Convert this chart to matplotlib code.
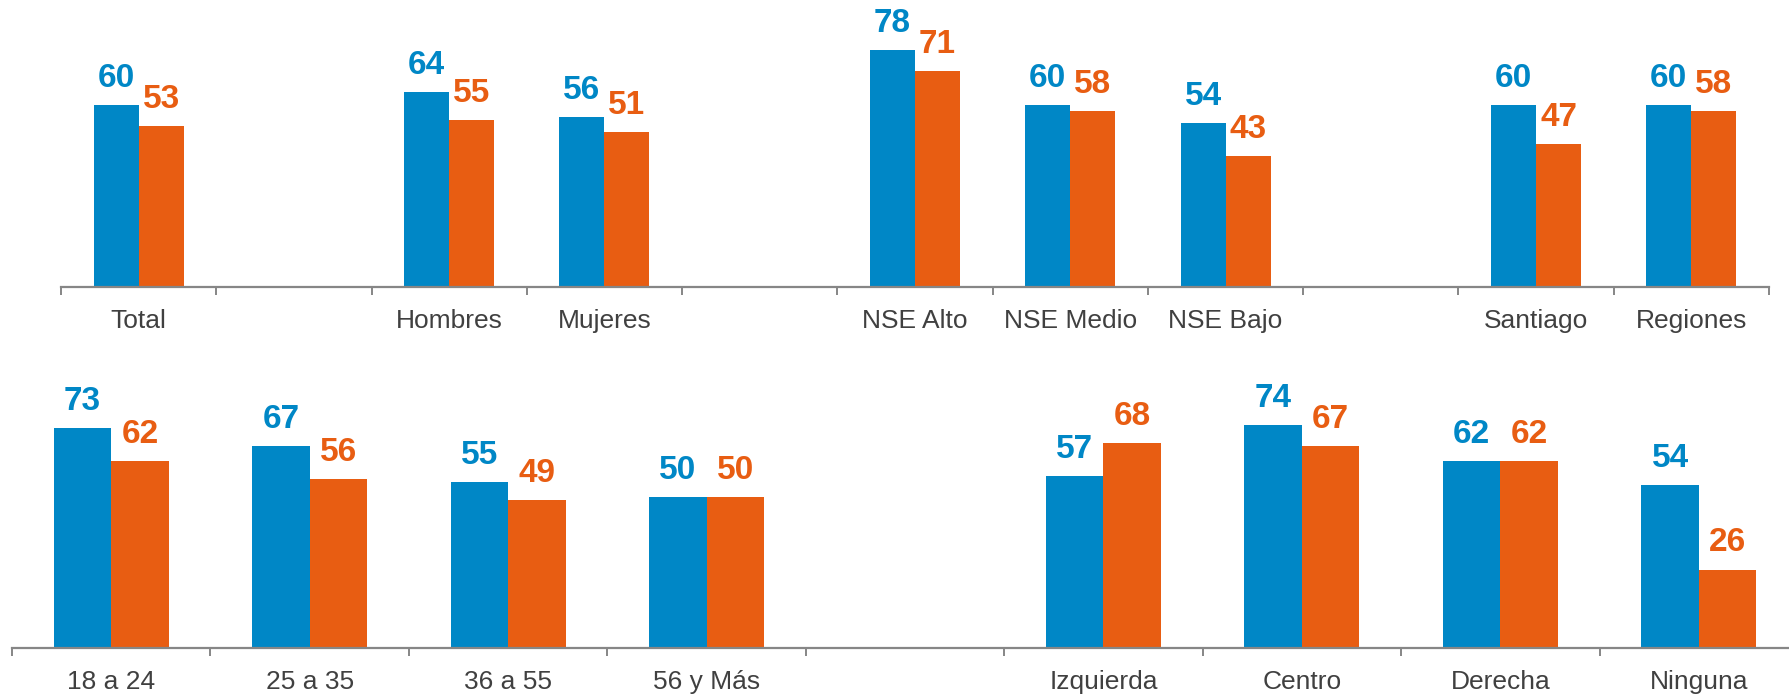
import matplotlib
matplotlib.use("Agg")
import matplotlib.pyplot as plt
import numpy as np

plt.rcParams['font.family'] = ['Liberation Sans', 'DejaVu Sans']

# top row: total, sex, socioeconomic level, zone (blank entries are spacers)
top_cats = ["Total", "", "Hombres", "Mujeres", "", "NSE Alto", "NSE Medio",
            "NSE Bajo", "", "Santiago", "Regiones"]
top_blue = [60, None, 64, 56, None, 78, 60, 54, None, 60, 60]
top_orange = [53, None, 55, 51, None, 71, 58, 43, None, 47, 58]

# bottom row: age groups and political position
bot_cats = ["18 a 24", "25 a 35", "36 a 55", "56 y Más", "",
            "Izquierda", "Centro", "Derecha", "Ninguna"]
bot_blue = [73, 67, 55, 50, None, 57, 74, 62, 54]
bot_orange = [62, 56, 49, 50, None, 68, 67, 62, 26]

BLUE = "#0087C6"
ORANGE = "#E85D12"
AXIS = "#868686"
LABEL = "#404040"

W, H = 1790, 695
fig = plt.figure(figsize=(W / 100, H / 100), dpi=100)


def draw_panel(rect, cats, blue, orange, ymax=94.4, bw=0.29):
    ax = fig.add_axes(rect)
    x = np.arange(len(cats))
    for i in x:
        if blue[i] is None:
            continue
        for val, dx, col in ((blue[i], -bw / 2, BLUE), (orange[i], bw / 2, ORANGE)):
            ax.bar(i + dx, val, width=bw, color=col, edgecolor="none")
            ax.annotate(str(val), (i + dx, val), xytext=(0, 13),
                        textcoords="offset points", ha="center", va="baseline",
                        fontsize=24, fontweight="bold", color=col)
    ax.set_xlim(-0.5, len(cats) - 0.5)
    ax.set_ylim(0, ymax)
    for s in ("top", "left", "right"):
        ax.spines[s].set_visible(False)
    ax.spines["bottom"].set_color(AXIS)
    ax.spines["bottom"].set_linewidth(1.6)
    ax.set_yticks([])
    # category boundaries get the tick marks, centres get the labels
    ax.set_xticks(np.arange(len(cats) + 1) - 0.5)
    ax.set_xticklabels([])
    ax.tick_params(axis="x", which="major", length=6, width=1.4, color=AXIS)
    ax.set_xticks(x, minor=True)
    ax.set_xticklabels(cats, minor=True)
    ax.tick_params(axis="x", which="minor", length=0, pad=16,
                   labelsize=19, labelcolor=LABEL)
    return ax


draw_panel([61 / W, (H - 287) / H, (1769 - 61) / W, 287 / H],
           top_cats, top_blue, top_orange)
draw_panel([12 / W, (H - 648) / H, (1798 - 12) / W, 285 / H],
           bot_cats, bot_blue, bot_orange)

fig.savefig("out.png", dpi=100)
